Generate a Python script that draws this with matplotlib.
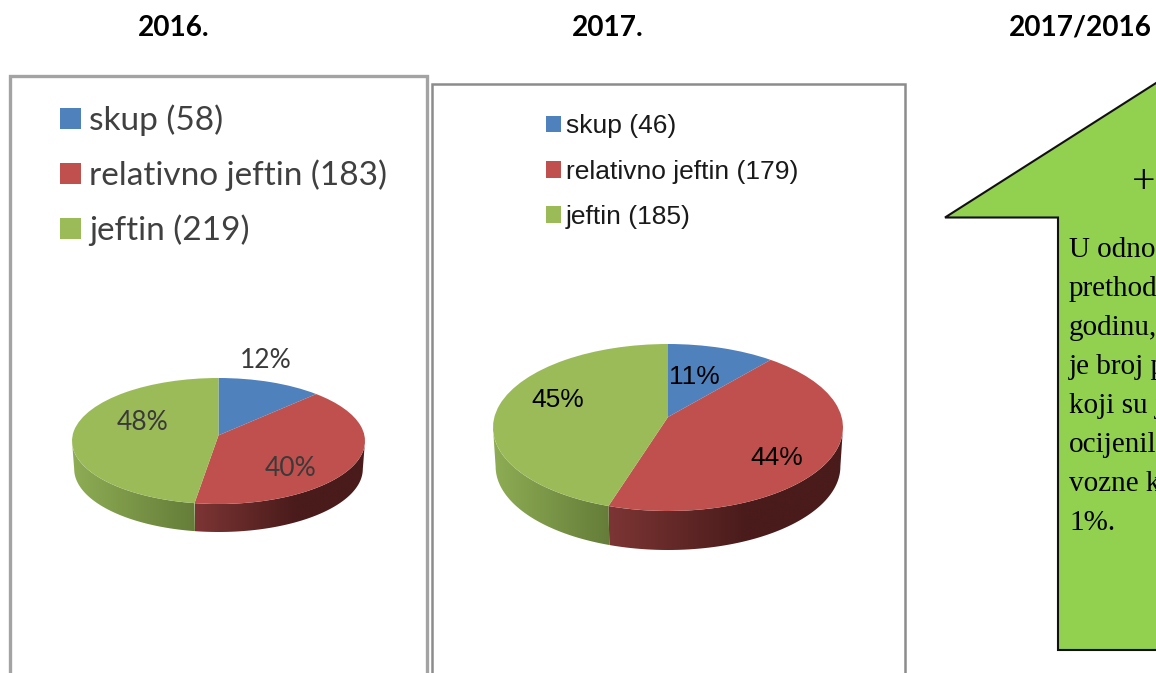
#!/usr/bin/python3

import numpy as np
import matplotlib
matplotlib.use("Agg")
import matplotlib.pyplot as plt
from matplotlib.colors import to_rgb
from matplotlib.patches import Rectangle, Polygon
from matplotlib.transforms import Transform

#chart data
names = ["skup", "relativno jeftin", "jeftin"]
counts_2016 = [58, 183, 219]
counts_2017 = [46, 179, 185]
pct_2016 = ["12%", "40%", "48%"]
pct_2017 = ["11%", "44%", "45%"]
titles = ["2016.", "2017.", "2017/2016"]
arrow_sign = "+"
arrow_lines = ["U odno", "prethod", "godinu,", "je broj p", "koji su j", "ocijenil", "vozne k", "1%."]

colors = ["#4F81BD", "#C0504D", "#9BBB59"]
wall_colors = {1: ("#7C3534", "#4A1B1B"), 2: ("#8EAD54", "#657D39")}

W = 1156
H = 673

#_____________________________________________________________________________
class Tilt(Transform):

    #keeps the unit circle, moves its center up, for the perspective of a 3D pie
    input_dims = 2
    output_dims = 2

    def __init__(self, a):
        super().__init__()
        self.a = a

    def transform_non_affine(self, xy):
        xy = np.asarray(xy)
        den = 1 + self.a*xy[:, 1]
        return np.column_stack((xy[:, 0]*np.sqrt(1 - self.a**2)/den, (xy[:, 1] + self.a)/den))

#Tilt

#_____________________________________________________________________________
def main():

    fig = plt.figure(figsize=(W/100, H/100), dpi=100)

    #page in pixel coordinates
    bg = pixel_axes(fig, "bg")

    title_x = [174, 608, 1080]
    for x, t in zip(title_x, titles):
        bg.text(x, 27.5, t, ha="center", va="center", family="Lato", weight="bold", fontsize=20.2, color="black")

    #frames of the two charts
    bg.add_patch(Rectangle((9.5, 76), 417, 640, fc="white", ec="#a3a3a3", lw=2.4))
    bg.add_patch(Rectangle((431.5, 84), 473, 640, fc="white", ec="#8c8c8c", lw=1.8))

    w1 = pie3d(fig, counts_2016, 218.5, 441, 146.5, 63, 28, 0.09)
    w2 = pie3d(fig, counts_2017, 668, 427.5, 175, 83.5, 39, 0.126)

    top = pixel_axes(fig, "top")

    #percent labels
    pos1 = [(266, 360), (291, 469), (143, 422)]
    for (x, y), t in zip(pos1, pct_2016):
        top.text(x, y, t, ha="center", va="center", family="Lato", fontsize=19, color="#3a3a3a")
    pos2 = [(694, 377), (777, 458), (558, 400)]
    for (x, y), t in zip(pos2, pct_2017):
        top.text(x, y, t, ha="center", va="center", family="Liberation Sans", fontsize=19, color="black")

    #legends
    lab1 = [f"{n} ({c})" for n, c in zip(names, counts_2016)]
    lab2 = [f"{n} ({c})" for n, c in zip(names, counts_2017)]
    leg1 = top.legend(w1, lab1, loc="upper left", bbox_to_anchor=(46.7, 91), bbox_transform=top.transData,
        frameon=False, prop={"family": "Lato", "size": 24}, labelcolor="#404040",
        handlelength=0.63, handleheight=0.6, handletextpad=0.24, labelspacing=0.71, borderpad=0, borderaxespad=0.4)
    top.add_artist(leg1)
    top.legend(w2, lab2, loc="upper left", bbox_to_anchor=(535.5, 103.7), bbox_transform=top.transData,
        frameon=False, prop={"family": "Liberation Sans", "size": 19}, labelcolor="#1a1a1a",
        handlelength=0.58, handleheight=0.58, handletextpad=0.18, labelspacing=0.81, borderpad=0, borderaxespad=0.4)

    #arrow box, runs off the right side of the page
    top.add_patch(Polygon([(945, 217.5), (1200, 55), (1200, 650), (1058, 650), (1058, 217.5)], closed=True,
        fc="#92D050", ec="#111111", lw=1.5, joinstyle="miter"))
    top.text(1143.5, 183, arrow_sign, ha="center", va="center", family="Liberation Serif", fontsize=30, color="black")
    for i, t in enumerate(arrow_lines):
        top.text(1069, 257 + i*39, t, ha="left", va="baseline", family="Liberation Serif", fontsize=21, color="black")

    fig.savefig("out.png", dpi=100)
    plt.close()

#main

#_____________________________________________________________________________
def pixel_axes(fig, name):

    ax = fig.add_axes([0, 0, 1, 1], label=name)
    ax.set_xlim(0, W)
    ax.set_ylim(H, 0)
    ax.axis("off")
    return ax

#pixel_axes

#_____________________________________________________________________________
def pie3d(fig, vals, cx, cy, rx, ry, depth, tilt):

    #squashed pie with a side wall, sizes in pixels, axes also hold the wall
    ax = fig.add_axes([(cx-rx-2)/W, 1-(cy+ry+depth+2)/H, (2*rx+4)/W, (2*ry+depth+4)/H])
    wedges, _ = ax.pie(vals, colors=colors, startangle=90, counterclock=False, radius=1,
        wedgeprops={"clip_on": False, "zorder": 5, "lw": 0})
    tr = Tilt(tilt)
    for w in wedges:
        w.set_transform(tr + ax.transData)

    edges = 360*np.cumsum([0] + list(vals))/np.sum(vals)
    dy = depth/ry
    shrink = 0.985
    for i in wall_colors:
        th = np.radians(np.linspace(edges[i], edges[i+1], 600))
        xy = tr.transform_non_affine(np.column_stack((np.sin(th), np.cos(th))))
        xy = xy[xy[:, 1] <= 0]
        x = xy[:, 0]
        y = xy[:, 1]
        xa = x.min()
        xb = x.max()

        #horizontal shading of the wall, clipped to its outline
        f = np.linspace(0, 1, 256)
        if i == 1:
            f = np.minimum(1.7*f, 1)
        c0 = np.array(to_rgb(wall_colors[i][0]))
        c1 = np.array(to_rgb(wall_colors[i][1]))
        grad = (c0 + (c1 - c0)*f[:, None])[None, :, :]
        im = ax.imshow(grad, extent=(xa, xb, -1 - dy, 0), aspect="auto", zorder=2, interpolation="bilinear")
        outline = Polygon(np.vstack((np.column_stack((x, y)), np.column_stack((x*shrink, y - dy))[::-1])),
            closed=True, transform=ax.transData, fc="none", ec="none")
        ax.add_patch(outline)
        im.set_clip_path(outline)

    ax.set_aspect("auto")
    ax.set_xlim(-1 - 2/rx, 1 + 2/rx)
    ax.set_ylim(-1 - dy - 2/ry, 1 + 2/ry)
    ax.patch.set_visible(False)

    return wedges

#pie3d

#_____________________________________________________________________________
if __name__ == "__main__":

    main()
